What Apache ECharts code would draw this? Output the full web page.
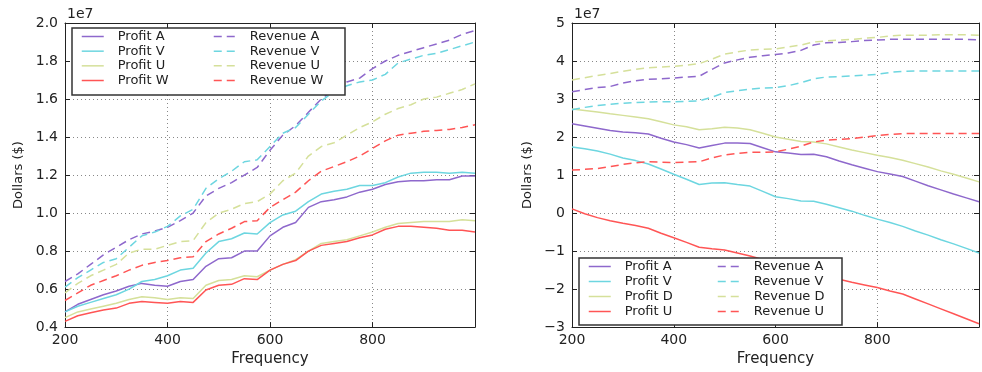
<!DOCTYPE html>
<html><head><meta charset="utf-8">
<script src="https://cdn.jsdelivr.net/npm/echarts@6/dist/echarts.min.js"></script>
<style>html,body{margin:0;padding:0;background:#fff}#c{width:982px;height:372px}</style>
</head><body><div id="c"></div>
<script>
// x values (Frequency)
const freq = [200,225,250,275,300,325,350,375,400,425,450,475,500,525,550,575,600,625,650,675,700,725,750,775,800,825,850,875,900,925,950,975,1000];

// Left panel (units of 1e7 dollars)
const leftProfitA  = [0.48,0.52,0.545,0.57,0.59,0.615,0.63,0.62,0.615,0.64,0.65,0.72,0.76,0.765,0.80,0.80,0.88,0.925,0.95,1.03,1.06,1.07,1.085,1.11,1.125,1.15,1.165,1.17,1.17,1.175,1.175,1.195,1.195];
const leftProfitV  = [0.48,0.51,0.53,0.55,0.57,0.60,0.64,0.65,0.67,0.70,0.71,0.79,0.85,0.865,0.895,0.89,0.95,0.99,1.01,1.06,1.10,1.115,1.125,1.145,1.145,1.16,1.19,1.21,1.215,1.215,1.21,1.215,1.21];
const leftProfitU  = [0.45,0.48,0.495,0.51,0.525,0.545,0.56,0.555,0.545,0.555,0.55,0.62,0.645,0.65,0.67,0.665,0.70,0.73,0.755,0.80,0.84,0.85,0.86,0.88,0.90,0.925,0.945,0.95,0.955,0.955,0.955,0.965,0.96];
const leftProfitW  = [0.43,0.46,0.475,0.49,0.50,0.525,0.535,0.53,0.525,0.535,0.53,0.595,0.62,0.625,0.655,0.65,0.70,0.73,0.75,0.80,0.83,0.84,0.85,0.87,0.885,0.915,0.93,0.93,0.925,0.92,0.91,0.91,0.90];
const leftRevenueA = [0.64,0.68,0.73,0.78,0.82,0.86,0.89,0.905,0.925,0.96,1.00,1.09,1.13,1.16,1.20,1.24,1.33,1.41,1.46,1.53,1.60,1.65,1.69,1.71,1.76,1.80,1.83,1.85,1.87,1.89,1.91,1.94,1.96];
const leftRevenueV = [0.61,0.66,0.70,0.74,0.76,0.82,0.88,0.90,0.93,0.985,1.02,1.13,1.18,1.22,1.27,1.28,1.35,1.42,1.45,1.52,1.59,1.64,1.67,1.69,1.70,1.73,1.79,1.81,1.83,1.84,1.86,1.88,1.90];
const leftRevenueU = [0.58,0.63,0.67,0.70,0.73,0.79,0.81,0.81,0.83,0.85,0.855,0.95,1.00,1.02,1.05,1.06,1.10,1.17,1.21,1.30,1.35,1.37,1.41,1.45,1.48,1.52,1.55,1.57,1.60,1.61,1.63,1.65,1.68];
const leftRevenueW = [0.54,0.58,0.62,0.645,0.67,0.70,0.725,0.74,0.75,0.765,0.77,0.85,0.89,0.92,0.955,0.96,1.03,1.07,1.11,1.17,1.22,1.245,1.27,1.30,1.34,1.38,1.41,1.42,1.43,1.435,1.44,1.45,1.465];

// Right panel (units of 1e7 dollars)
const rightProfitA  = [2.35,2.29,2.23,2.17,2.13,2.11,2.08,1.97,1.87,1.80,1.71,1.78,1.84,1.84,1.83,1.72,1.61,1.58,1.54,1.55,1.48,1.37,1.27,1.18,1.09,1.03,0.96,0.84,0.72,0.61,0.50,0.40,0.30];
const rightProfitV  = [1.74,1.69,1.63,1.55,1.45,1.38,1.29,1.16,1.02,0.89,0.75,0.79,0.80,0.75,0.71,0.57,0.43,0.38,0.32,0.31,0.23,0.14,0.05,-0.06,-0.16,-0.25,-0.35,-0.47,-0.58,-0.70,-0.81,-0.93,-1.05];
const rightProfitD  = [2.74,2.70,2.66,2.61,2.57,2.53,2.48,2.40,2.32,2.27,2.19,2.22,2.26,2.24,2.19,2.10,2.00,1.94,1.88,1.87,1.82,1.74,1.66,1.59,1.52,1.46,1.39,1.30,1.21,1.11,1.02,0.92,0.82];
const rightProfitU  = [0.11,-0.02,-0.12,-0.20,-0.27,-0.33,-0.40,-0.53,-0.65,-0.77,-0.90,-0.94,-0.97,-1.05,-1.13,-1.22,-1.30,-1.38,-1.47,-1.57,-1.65,-1.74,-1.82,-1.89,-1.96,-2.05,-2.13,-2.26,-2.39,-2.52,-2.65,-2.78,-2.91];
const rightRevenueA = [3.19,3.25,3.30,3.33,3.42,3.48,3.52,3.53,3.55,3.58,3.60,3.78,3.95,4.03,4.10,4.14,4.17,4.21,4.28,4.42,4.48,4.49,4.51,4.54,4.55,4.57,4.57,4.57,4.57,4.57,4.57,4.57,4.56];
const rightRevenueV = [2.72,2.78,2.83,2.86,2.89,2.91,2.92,2.93,2.93,2.94,2.95,3.05,3.17,3.22,3.26,3.29,3.30,3.35,3.43,3.53,3.58,3.59,3.61,3.63,3.65,3.70,3.73,3.74,3.74,3.74,3.74,3.74,3.74];
const rightRevenueD = [3.50,3.56,3.62,3.67,3.73,3.78,3.82,3.84,3.86,3.89,3.93,4.05,4.18,4.24,4.29,4.31,4.32,4.37,4.42,4.50,4.53,4.55,4.57,4.60,4.62,4.66,4.68,4.68,4.68,4.69,4.69,4.69,4.68];
const rightRevenueU = [1.13,1.15,1.17,1.22,1.28,1.32,1.35,1.34,1.33,1.34,1.35,1.45,1.53,1.57,1.60,1.60,1.61,1.68,1.76,1.87,1.92,1.94,1.96,2.00,2.04,2.07,2.09,2.09,2.09,2.09,2.09,2.09,2.09];

// tick labels
const leftYTicks = ['0.4','0.6','0.8','1.0','1.2','1.4','1.6','1.8','2.0'];
const rightYTicks = ['\u22123','\u22122','\u22121','0','1','2','3','4','5'];
const xTicks = ['200','400','600','800'];

const PURPLE = '#8e68cc', CYAN = '#6dd6e0', YELLOW = '#d5e09a', RED = '#ff5555';
const DASH = [8, 5];
const FONT = 'DejaVu Sans';
const TXT = '#222';

function pairs(vals) { return freq.map((f, i) => [f, vals[i]]); }
function mk(name, vals, color, dashed, gi) {
  return {
    name, type: 'line', data: pairs(vals), xAxisIndex: gi * 2, yAxisIndex: gi * 2,
    symbol: 'none', showSymbol: false, animation: false, z: 2,
    lineStyle: { color, width: 1.5, type: dashed ? DASH : 'solid' },
    itemStyle: { color }, emphasis: { disabled: true }
  };
}
function legItem(name, color, dashed) {
  return {
    name,
    itemStyle: { color: 'rgba(0,0,0,0)', borderWidth: 0, opacity: 0 },
    lineStyle: { color, width: 1.5, type: dashed ? DASH : 'solid' }
  };
}
function legend(items, left, top, gap) {
  return {
    data: items, orient: 'vertical', left, top, padding: 0,
    itemWidth: 22, itemHeight: 14, itemGap: gap, selectedMode: false,
    textStyle: { fontSize: 13, fontFamily: FONT, color: TXT, padding: [0, 0, 0, 9] }
  };
}

const gridL = { left: 65, top: 23, width: 410, height: 306 };
const gridR = { left: 572, top: 23, width: 412, height: 307 };

function xAx(gi, pos) {
  const bottom = pos === 'bottom';
  return {
    type: 'value', gridIndex: gi, position: pos, min: 200, max: 1000, interval: 200,
    axisLine: { show: true, onZero: false, lineStyle: { color: TXT, width: 1 } },
    axisTick: { show: true, inside: true, length: 5, lineStyle: { color: TXT } },
    axisLabel: { show: bottom, margin: 6, fontSize: 14, fontFamily: FONT, color: TXT,
      formatter: v => (xTicks.indexOf(String(v)) >= 0 ? xTicks[xTicks.indexOf(String(v))] : '') },
    splitLine: { show: bottom, lineStyle: { type: [1, 3], color: '#888', width: 1 } },
    name: bottom ? 'Frequency' : '', nameLocation: 'middle', nameGap: 22,
    nameTextStyle: { fontSize: 15, fontFamily: FONT, color: TXT }
  };
}
function yAx(gi, pos, min, max, ticks) {
  const left = pos === 'left';
  return {
    type: 'value', gridIndex: gi, position: pos, min, max, interval: gi === 0 ? 0.2 : 1,
    axisLine: { show: true, onZero: false, lineStyle: { color: TXT, width: 1 } },
    axisTick: { show: true, inside: true, length: 5, lineStyle: { color: TXT } },
    axisLabel: { show: left, margin: 7, fontSize: 14, fontFamily: FONT, color: TXT,
      formatter: v => { const i = Math.round((v - min) / (gi === 0 ? 0.2 : 1)); return ticks[i] || ''; } },
    splitLine: { show: left, lineStyle: { type: [1, 3], color: '#888', width: 1 } }
  };
}

const yL = yAx(0, 'left', 0.4, 2.0, leftYTicks);
yL.name = 'Dollars ($)'; yL.nameLocation = 'middle'; yL.nameGap = 40;
yL.nameTextStyle = { fontSize: 13, fontFamily: FONT, color: TXT };
const yR = yAx(1, 'left', -3, 5, rightYTicks);
yR.name = 'Dollars ($)'; yR.nameLocation = 'middle'; yR.nameGap = 38;
yR.nameTextStyle = { fontSize: 13, fontFamily: FONT, color: TXT };

const chart = echarts.init(document.getElementById('c'), null, { renderer: 'canvas' });
chart.setOption({
  animation: false,
  backgroundColor: '#fff',
  grid: [gridL, gridR],
  xAxis: [xAx(0, 'bottom'), xAx(0, 'top'), xAx(1, 'bottom'), xAx(1, 'top')],
  yAxis: [yL, yAx(0, 'right', 0.4, 2.0, leftYTicks), yR, yAx(1, 'right', -3, 5, rightYTicks)],
  graphic: [
    { type: 'text', left: 67, top: 7, z: 5, style: { text: '1e7', fontSize: 14, fontFamily: FONT, fill: TXT } },
    { type: 'text', left: 574, top: 7, z: 5, style: { text: '1e7', fontSize: 14, fontFamily: FONT, fill: TXT } },
    { type: 'rect', z: 3, shape: { x: 72, y: 28, width: 273, height: 67 }, style: { fill: '#fff', stroke: '#333', lineWidth: 1.5 } },
    { type: 'rect', z: 3, shape: { x: 579, y: 258, width: 263, height: 67 }, style: { fill: '#fff', stroke: '#333', lineWidth: 1.5 } }
  ],
  legend: [
    legend([legItem('Profit A', PURPLE, false), legItem('Profit V', CYAN, false), legItem('Profit U', YELLOW, false), legItem('Profit W', RED, false)], 81, 30, 1.67),
    legend([legItem('Revenue A', PURPLE, true), legItem('Revenue V', CYAN, true), legItem('Revenue U', YELLOW, true), legItem('Revenue W', RED, true)], 213, 30, 1.67),
    legend([legItem('Profit A', PURPLE, false), legItem('Profit V', CYAN, false), legItem('Profit D', YELLOW, false), legItem('Profit U', RED, false)], 588, 260, 2),
    legend([legItem('Revenue A', PURPLE, true), legItem('Revenue V', CYAN, true), legItem('Revenue D', YELLOW, true), legItem('Revenue U', RED, true)], 717, 260, 2)
  ],
  series: [
    mk('Profit A', leftProfitA, PURPLE, false, 0),
    mk('Profit V', leftProfitV, CYAN, false, 0),
    mk('Profit U', leftProfitU, YELLOW, false, 0),
    mk('Profit W', leftProfitW, RED, false, 0),
    mk('Revenue A', leftRevenueA, PURPLE, true, 0),
    mk('Revenue V', leftRevenueV, CYAN, true, 0),
    mk('Revenue U', leftRevenueU, YELLOW, true, 0),
    mk('Revenue W', leftRevenueW, RED, true, 0),
    mk('Profit A', rightProfitA, PURPLE, false, 1),
    mk('Profit V', rightProfitV, CYAN, false, 1),
    mk('Profit D', rightProfitD, YELLOW, false, 1),
    mk('Profit U', rightProfitU, RED, false, 1),
    mk('Revenue A', rightRevenueA, PURPLE, true, 1),
    mk('Revenue V', rightRevenueV, CYAN, true, 1),
    mk('Revenue D', rightRevenueD, YELLOW, true, 1),
    mk('Revenue U', rightRevenueU, RED, true, 1)
  ]
});
</script></body></html>
